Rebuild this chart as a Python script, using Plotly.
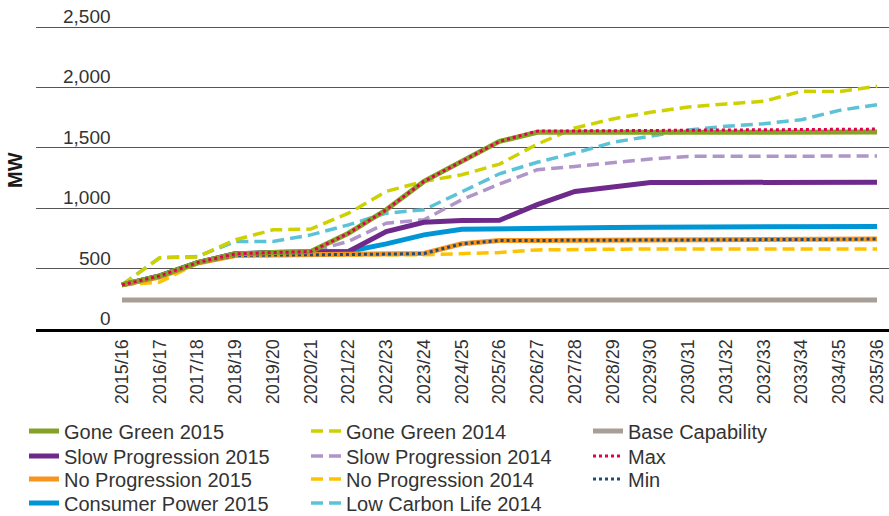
import plotly.graph_objects as go

categories = ["2015/16", "2016/17", "2017/18", "2018/19", "2019/20", "2020/21", "2021/22",
              "2022/23", "2023/24", "2024/25", "2025/26", "2026/27", "2027/28", "2028/29",
              "2029/30", "2030/31", "2031/32", "2032/33", "2033/34", "2034/35", "2035/36"]

gone_green_2015 = [365, 440, 550, 622, 633, 641, 793, 987, 1222, 1390, 1553, 1628, 1628, 1628,
                   1628, 1628, 1628, 1628, 1630, 1630, 1630]
slow_progression_2015 = [365, 440, 550, 622, 633, 641, 641, 807, 884, 898, 900, 1030, 1139, 1175,
                         1213, 1213, 1213, 1215, 1215, 1215, 1215]
no_progression_2015 = [365, 430, 545, 608, 612, 617, 617, 620, 625, 705, 732, 733, 735, 735,
                       737, 737, 738, 740, 740, 742, 745]
consumer_power_2015 = [365, 440, 550, 622, 633, 641, 641, 705, 779, 826, 832, 835, 838, 840,
                       843, 843, 845, 848, 848, 848, 848]
gone_green_2014 = [365, 590, 597, 738, 821, 827, 959, 1139, 1222, 1277, 1365, 1530, 1664, 1739,
                   1794, 1838, 1863, 1885, 1968, 1965, 2009]
slow_progression_2014 = [365, 440, 550, 622, 633, 641, 725, 876, 904, 1070, 1200, 1318, 1346, 1379,
                         1407, 1429, 1430, 1430, 1430, 1430, 1432]
no_progression_2014 = [365, 388, 545, 605, 608, 612, 615, 615, 615, 622, 633, 655, 660, 663,
                       663, 663, 663, 663, 663, 663, 663]
low_carbon_life_2014 = [365, 590, 600, 724, 724, 779, 862, 959, 987, 1139, 1285, 1380, 1457, 1545,
                        1600, 1648, 1678, 1700, 1733, 1810, 1857]
base_capability = [240] * 21
max_values = [365, 440, 550, 622, 633, 641, 793, 987, 1222, 1390, 1553, 1638, 1640, 1640,
              1641, 1642, 1645, 1648, 1650, 1652, 1655]
min_values = [365, 430, 545, 608, 612, 617, 617, 620, 625, 705, 732, 733, 735, 735,
              737, 737, 738, 740, 740, 742, 745]

y_tick_values = [0, 500, 1000, 1500, 2000, 2500]
y_tick_labels = ["0", "500", "1,000", "1,500", "2,000", "2,500"]

FONT = "Liberation Sans, Arial, sans-serif"
DASH = "12px,6px"

# (name, values, colour, width, dash, legend row, rank in row)
series = [
    ("Base Capability", base_capability, "#a89e96", 5, "solid", "legend", 3),
    ("No Progression 2014", no_progression_2014, "#fdc300", 3.5, DASH, "legend3", 2),
    ("Slow Progression 2014", slow_progression_2014, "#b095c9", 3.5, DASH, "legend2", 2),
    ("Low Carbon Life 2014", low_carbon_life_2014, "#5bc2d8", 3.5, DASH, "legend4", 2),
    ("Gone Green 2014", gone_green_2014, "#cdd100", 3.5, DASH, "legend", 2),
    ("Consumer Power 2015", consumer_power_2015, "#0096d6", 5, "solid", "legend4", 1),
    ("Slow Progression 2015", slow_progression_2015, "#6e2a8a", 5, "solid", "legend2", 1),
    ("No Progression 2015", no_progression_2015, "#f7941d", 5, "solid", "legend3", 1),
    ("Min", min_values, "#1e4d78", 3, "dot", "legend3", 3),
    ("Gone Green 2015", gone_green_2015, "#84a226", 5, "solid", "legend", 1),
    ("Max", max_values, "#e2004f", 3, "dot", "legend2", 3),
]

fig = go.Figure()
for name, vals, color, width, dash, leg, rank in series:
    fig.add_trace(go.Scatter(
        x=categories, y=vals, name=name, mode="lines",
        line=dict(color=color, width=width, dash=dash),
        legend=leg, legendrank=rank,
    ))

W, H = 889, 516
ml, mr, mt, mb = 36, 0, 25, 187
pw = W - ml - mr
ph = H - mt - mb
y_top = ph / 302 * 2500  # keeps 500 MW per ~60 px and lets the 2,500 gridline show

def px_to_paper_x(px):
    return (px - ml) / pw

def px_to_paper_y(py):
    return (H - mb - py) / ph

legend_common = dict(font=dict(family=FONT, size=20, color="#333333"),
                     bgcolor="rgba(0,0,0,0)", orientation="h",
                     entrywidthmode="pixels", entrywidth=237,
                     xanchor="left", yanchor="middle", itemwidth=30)
legend_x = px_to_paper_x(24)
row_centres = [431, 456, 479, 503]

annotations = []
for v, t in zip(y_tick_values, y_tick_labels):
    annotations.append(dict(x=px_to_paper_x(113), xref="paper", y=v, yref="y",
                            text=t, showarrow=False, xanchor="right", yanchor="bottom",
                            yshift=-2,
                            font=dict(family=FONT, size=19, color="#333333")))
annotations.append(dict(x=px_to_paper_x(15), xref="paper", y=px_to_paper_y(170), yref="paper",
                        text="<b>MW</b>", showarrow=False, textangle=-90,
                        xanchor="center", yanchor="middle",
                        font=dict(family=FONT, size=20, color="#1a1a1a")))

fig.update_layout(
    width=W, height=H,
    margin=dict(l=ml, r=mr, t=mt, b=mb, autoexpand=False),
    paper_bgcolor="white", plot_bgcolor="white",
    font=dict(family=FONT, color="#333333"),
    showlegend=True,
    legend=dict(x=legend_x, y=px_to_paper_y(row_centres[0]), **legend_common),
    legend2=dict(x=legend_x, y=px_to_paper_y(row_centres[1]), **legend_common),
    legend3=dict(x=legend_x, y=px_to_paper_y(row_centres[2]), **legend_common),
    legend4=dict(x=legend_x, y=px_to_paper_y(row_centres[3]), **legend_common),
    annotations=annotations,
    xaxis=dict(type="category", range=[-2.278, 20.318], tickangle=-90,
               tickfont=dict(family=FONT, size=18, color="#333333"),
               showgrid=False, showline=True, linecolor="#000000", linewidth=3,
               ticks="", zeroline=False, fixedrange=True),
    yaxis=dict(range=[0, y_top], tickvals=y_tick_values, showticklabels=False,
               showgrid=True, gridcolor="#555555", gridwidth=1,
               zeroline=False, showline=False, fixedrange=True),
)

fig.write_html("out.html", config={"displayModeBar": False},
               post_script="document.body.style.margin='0';")
